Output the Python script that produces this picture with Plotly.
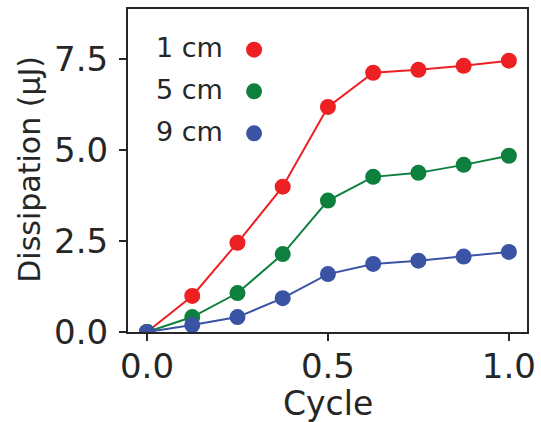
import plotly.graph_objects as go

cycle = [0, 0.125, 0.25, 0.375, 0.5, 0.625, 0.75, 0.875, 1.0]
d_1cm = [0, 0.99, 2.45, 3.99, 6.18, 7.12, 7.2, 7.31, 7.45]
d_5cm = [0, 0.41, 1.07, 2.14, 3.61, 4.26, 4.37, 4.59, 4.84]
d_9cm = [0, 0.19, 0.41, 0.93, 1.59, 1.87, 1.96, 2.07, 2.2]
labels = ["1 cm", "5 cm", "9 cm"]
colors = ["#ed2024", "#0e803e", "#3a53a4"]
series = [d_1cm, d_5cm, d_9cm]

FONT = "DejaVu Sans"
TXT = "#262626"
fig = go.Figure()
for lab, col, ys in zip(labels, colors, series):
    fig.add_trace(go.Scatter(x=cycle, y=ys, mode="lines+markers", name=lab,
                             line=dict(color=col, width=2),
                             marker=dict(color=col, size=16),
                             cliponaxis=True, showlegend=False))

# manual legend (text then marker)
leg_y = [0.880, 0.751, 0.621]
for lab, col, yy in zip(labels, colors, leg_y):
    fig.add_annotation(x=0.066, y=yy, xref="paper", yref="paper", text=lab,
                       showarrow=False, xanchor="left", yanchor="middle",
                       font=dict(family=FONT, size=27, color=TXT))
    fig.add_shape(type="circle", xref="paper", yref="paper",
                  xsizemode="pixel", ysizemode="pixel",
                  xanchor=0.316, yanchor=yy - 0.006,
                  x0=-8, x1=8, y0=-8, y1=8,
                  fillcolor=col, line=dict(width=0))

# axis titles
fig.add_annotation(x=0.5, y=-0.222, xref="paper", yref="paper", text="Cycle",
                   showarrow=False, xanchor="center", yanchor="middle",
                   font=dict(family=FONT, size=33, color=TXT))
fig.add_annotation(x=-0.246, y=0.505, xref="paper", yref="paper", text="Dissipation (μJ)",
                   showarrow=False, xanchor="center", yanchor="middle", textangle=-90,
                   font=dict(family=FONT, size=30, color=TXT))

axis_common = dict(showline=True, linecolor=TXT, linewidth=2, mirror=True,
                   ticks="outside", ticklen=7, tickwidth=2, tickcolor=TXT,
                   showgrid=False, zeroline=False, automargin=False,
                   tickfont=dict(family=FONT, size=34, color=TXT))
fig.update_xaxes(range=[-0.0525, 1.05], tickvals=[0, 0.5, 1.0],
                 ticktext=["0.0", "0.5", "1.0"], ticklabelstandoff=-4,
                 **axis_common)
fig.update_yaxes(range=[0, 8.87], tickvals=[0, 2.5, 5.0, 7.5],
                 ticktext=["0.0", "2.5", "5.0", "7.5"], ticklabelstandoff=4,
                 **axis_common)
fig.update_layout(width=541, height=422, plot_bgcolor="white", paper_bgcolor="white",
                  margin=dict(l=128, r=14, t=9, b=90), showlegend=False)
fig.write_html("out.html", config={"displayModeBar": False},
               post_script="document.body.style.margin='0';document.body.style.overflow='hidden';")
